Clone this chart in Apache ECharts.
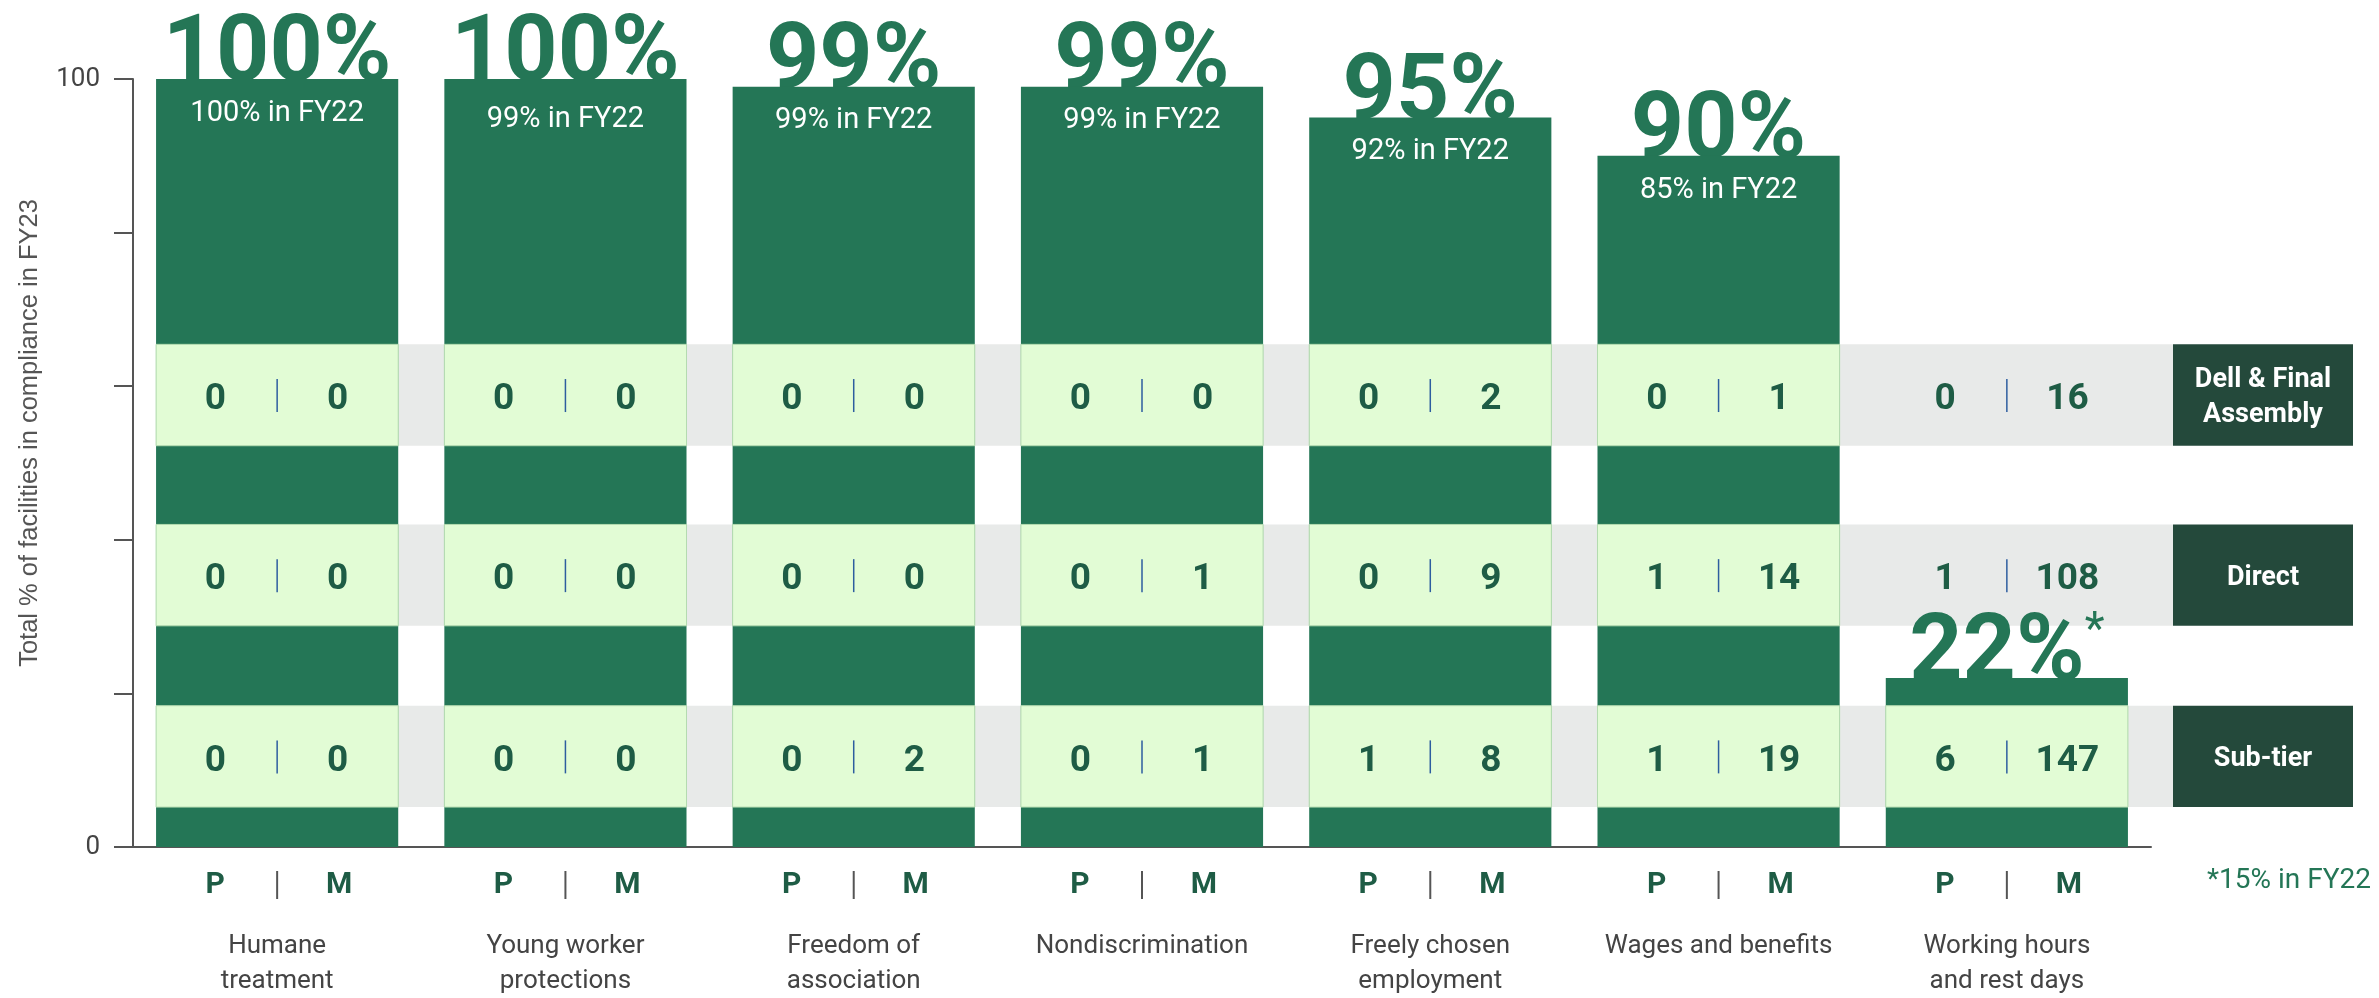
<!DOCTYPE html>
<html>
<head>
<meta charset="utf-8">
<script src="https://cdn.jsdelivr.net/npm/echarts@6/dist/echarts.min.js"></script>
<style>
html,body{margin:0;padding:0;background:#fff;}
#chart{width:2379px;height:998px;}
</style>
</head>
<body>
<div id="chart"></div>
<script>
var categories = ['Humane\ntreatment', 'Young worker\nprotections', 'Freedom of\nassociation', 'Nondiscrimination',
	'Freely chosen\nemployment', 'Wages and benefits', 'Working hours\nand rest days'];
var fy23 = [100, 100, 99, 99, 95, 90, 22];
var fy22 = [100, 99, 99, 99, 92, 85, 15];
var tiers = ['Dell & Final\nAssembly', 'Direct', 'Sub-tier'];
var dellP = [0, 0, 0, 0, 0, 0, 0];
var dellM = [0, 0, 0, 0, 2, 1, 16];
var directP = [0, 0, 0, 0, 0, 1, 1];
var directM = [0, 0, 0, 1, 9, 14, 108];
var subP = [0, 0, 0, 0, 1, 1, 6];
var subM = [0, 0, 2, 1, 8, 19, 147];
var pmLabels = ['P', 'M'];
var yLabels = [0, 100];

var countsP = [dellP, directP, subP];
var countsM = [dellM, directM, subM];

//table rows, in axis units
var ROW_MID = [58.85, 35.4, 11.8];
var ROW_HALF = 6.6;
var BAR_RATIO = 0.84;

var GREEN = '#247656';
var DARK = '#1e5c45';

var chart = echarts.init(document.getElementById('chart'));

function rowBounds(api, row) {
	var top = api.coord([0, ROW_MID[row] + ROW_HALF])[1];
	var bot = api.coord([0, ROW_MID[row] - ROW_HALF])[1];
	return [top, bot];
}

//gray row bands and the tier boxes on the right
function renderRow(params, api) {
	var row = params.dataIndex;
	var catW = api.size([1, 0])[0];
	var first = api.coord([0, 0]);
	var last = api.coord([categories.length - 1, 0]);
	var x0 = first[0] - catW * BAR_RATIO / 2;
	var boxX = last[0] + catW / 2 + 22;
	var b = rowBounds(api, row);
	return {
		type: 'group',
		children: [{
			type: 'rect',
			shape: {x: x0, y: b[0], width: boxX - x0, height: b[1] - b[0]},
			style: {fill: '#e8eae9'}
		}, {
			type: 'rect',
			shape: {x: boxX, y: b[0], width: 180, height: b[1] - b[0]},
			style: {fill: '#24493b'}
		}, {
			type: 'text',
			x: boxX + 90,
			y: (b[0] + b[1]) / 2 + 3,
			style: {
				text: tiers[row],
				fill: '#fff',
				fontFamily: 'Roboto',
				fontWeight: 'bold',
				fontSize: 27,
				lineHeight: 35,
				align: 'center',
				verticalAlign: 'middle'
			}
		}]
	};
}

//light green cells and the P | M counts
function renderCell(params, api) {
	var cat = api.value(0);
	var row = api.value(1);
	var c = api.coord([cat, 0]);
	var bw = api.size([1, 0])[0] * BAR_RATIO;
	var b = rowBounds(api, row);
	var mid = (b[0] + b[1]) / 2;
	var children = [];
	if (fy23[cat] >= ROW_MID[row] + ROW_HALF) {
		children.push({
			type: 'rect',
			shape: {x: c[0] - bw / 2, y: b[0], width: bw, height: b[1] - b[0]},
			style: {fill: '#e2fcd5', stroke: '#b4dbb0', lineWidth: 1}
		});
	}
	var numStyle = {fill: DARK, fontFamily: 'Roboto', fontWeight: 'bold', fontSize: 37, align: 'center', verticalAlign: 'middle'};
	children.push({
		type: 'text', x: c[0] - bw * 0.255, y: mid + 5,
		style: Object.assign({text: String(countsP[row][cat])}, numStyle)
	});
	children.push({
		type: 'text', x: c[0] + bw * 0.25, y: mid + 5,
		style: Object.assign({text: String(countsM[row][cat])}, numStyle)
	});
	children.push({
		type: 'line',
		shape: {x1: c[0], y1: mid - 16, x2: c[0], y2: mid + 17},
		style: {stroke: '#2d5d9f', lineWidth: 1.5}
	});
	return {type: 'group', children: children};
}

//big FY23 figures, drawn under the bars so the bar top trims them
function renderBig(params, api) {
	var i = params.dataIndex;
	var p = api.coord([api.value(0), api.value(1)]);
	var txt = i === categories.length - 1 ? '{v|' + fy23[i] + '%}{a|*}' : '{v|' + fy23[i] + '%}';
	return {
		type: 'text',
		x: p[0],
		y: p[1] - 22,
		style: {
			text: txt,
			align: 'center',
			verticalAlign: 'middle',
			rich: {
				v: {fontFamily: 'Roboto', fontWeight: 'bold', fontSize: 93, lineHeight: 93, fill: GREEN},
				a: {fontFamily: 'Roboto', fontSize: 46, lineHeight: 46, fill: GREEN, verticalAlign: 'top'}
			}
		}
	};
}

var rowData = tiers.map(function(t, r){ return [0, r]; });
var cellData = [];
for (var r = 0; r < tiers.length; r++) {
	for (var i = 0; i < categories.length; i++) {
		cellData.push([i, r]);
	}
}
var bigData = fy23.map(function(v, i){ return [i, v]; });
var barData = fy23.map(function(v, i){
	return i === 1 ? {value: v, label: {distance: 26}} : v;
});

var option = {
	animation: false,
	textStyle: {fontFamily: 'Roboto'},
	grid: {left: 133, right: 228, top: 79, bottom: 151, outerBoundsMode: 'none'},
	xAxis: [{
		type: 'category',
		data: categories,
		axisLine: {show: true, lineStyle: {color: '#555', width: 2}},
		axisTick: {show: false},
		splitLine: {show: false},
		axisLabel: {
			interval: 0,
			margin: 18,
			formatter: function(){ return '{p|' + pmLabels[0] + '}{s|}{m|' + pmLabels[1] + '}'; },
			rich: {
				p: {width: 122, align: 'center', fontSize: 30, fontWeight: 'bold', color: DARK, lineHeight: 40},
				s: {width: 2, height: 28, backgroundColor: '#555'},
				m: {width: 122, align: 'center', fontSize: 30, fontWeight: 'bold', color: DARK, lineHeight: 40}
			}
		}
	}, {
		type: 'category',
		data: categories,
		position: 'bottom',
		axisLine: {show: false},
		axisTick: {show: false},
		splitLine: {show: false},
		axisLabel: {interval: 0, margin: 82, fontSize: 26, lineHeight: 35, color: '#444'}
	}],
	yAxis: {
		type: 'value',
		min: 0,
		max: 100,
		interval: 20,
		name: 'Total % of facilities in compliance in FY23',
		nameLocation: 'middle',
		nameGap: 90,
		nameTextStyle: {fontFamily: 'Liberation Sans', fontSize: 25.5, color: '#555', padding: [0, 0, 0, 60]},
		axisLine: {show: true, lineStyle: {color: '#555', width: 2}},
		axisTick: {show: true, length: 19, lineStyle: {color: '#555', width: 2}},
		splitLine: {show: false},
		axisLabel: {
			margin: 33,
			fontSize: 26,
			color: '#444',
			formatter: function(v){ return yLabels.indexOf(v) >= 0 ? String(v) : ''; }
		}
	},
	graphic: [{
		type: 'text',
		right: 8,
		top: 867,
		style: {text: '*' + fy22[fy22.length - 1] + '% in FY22', fontFamily: 'Roboto', fontSize: 28, fill: GREEN}
	}],
	series: [{
		name: 'rows',
		type: 'custom',
		z: 1,
		clip: false,
		renderItem: renderRow,
		data: rowData,
		silent: true
	}, {
		name: 'FY23 big',
		type: 'custom',
		z: 1,
		clip: false,
		renderItem: renderBig,
		data: bigData,
		silent: true
	}, {
		name: 'FY23',
		type: 'bar',
		z: 2,
		data: barData,
		barCategoryGap: '16%',
		itemStyle: {color: GREEN},
		label: {
			show: true,
			position: 'insideTop',
			distance: 20,
			color: '#fff',
			fontSize: 29,
			formatter: function(p){
				return p.dataIndex < fy22.length - 1 ? fy22[p.dataIndex] + '% in FY22' : '';
			}
		}
	}, {
		name: 'cells',
		type: 'custom',
		z: 3,
		clip: false,
		renderItem: renderCell,
		data: cellData,
		silent: true
	}]
};
chart.setOption(option);
</script>
</body>
</html>
